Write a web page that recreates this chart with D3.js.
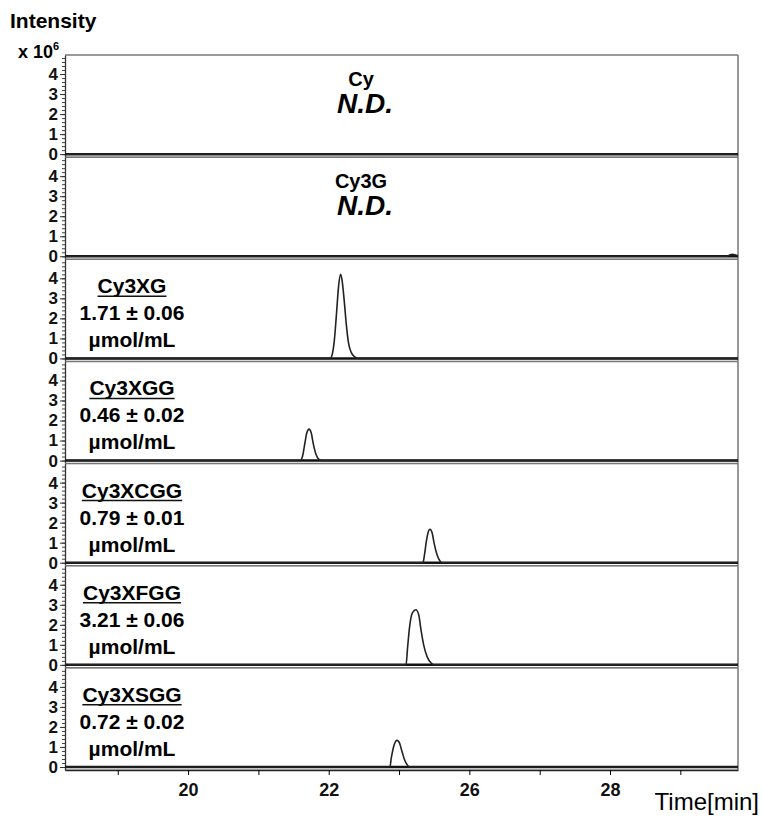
<!DOCTYPE html>
<html><head><meta charset="utf-8">
<script src="https://cdn.jsdelivr.net/npm/d3@7/dist/d3.min.js"></script>
<style>body{margin:0;background:#fff}svg{display:block;font-family:Arial,"Liberation Sans",sans-serif}</style>
</head><body><svg id="c" width="764" height="820"></svg>
<script>
const compounds = ["Cy","Cy3G","Cy3XG","Cy3XGG","Cy3XCGG","Cy3XFGG","Cy3XSGG"];
const amounts = [null,null,"1.71 ± 0.06","0.46 ± 0.02","0.79 ± 0.01","3.21 ± 0.06","0.72 ± 0.02"];
const unitLabel = "µmol/mL";
const xTickValues = [20,22,24,26];
const xTickLabels = ["20","22","26","28"];
const xMinorTicks = [19,21,23,25,27];
const yTickValues = [0,1,2,3,4];
const xDomain = [18.25, 27.82];
const yDomain = [-0.15, 4.95];
// traces: [time, intensity x10^6]
const traceCy = [[18.25,0],[27.82,0]];
const traceCy3G = [[18.25,0],[27.66,0],[27.70,0.06],[27.74,0.1],[27.78,0.07],[27.82,0.02]];
const traceCy3XG = [[18.25,0],[22.02,0],[22.05,0.2],[22.08,0.9],[22.11,2.2],[22.14,3.6],[22.17,4.2],[22.19,3.9],[22.22,2.9],[22.25,1.7],[22.28,0.8],[22.32,0.3],[22.37,0.08],[22.42,0],[27.82,0]];
const traceCy3XGG = [[18.25,0],[21.60,0],[21.63,0.25],[21.66,0.85],[21.69,1.4],[21.72,1.57],[21.75,1.4],[21.78,0.85],[21.82,0.3],[21.86,0.06],[21.90,0],[27.82,0]];
const traceCy3XCGG = [[18.25,0],[23.34,0],[23.36,0.35],[23.39,1.1],[23.42,1.58],[23.44,1.67],[23.47,1.5],[23.50,0.95],[23.54,0.4],[23.58,0.1],[23.61,0],[27.82,0]];
const traceCy3XFGG = [[18.25,0],[23.10,0],[23.12,0.8],[23.15,1.9],[23.19,2.6],[23.24,2.75],[23.28,2.5],[23.31,1.8],[23.35,1.0],[23.40,0.4],[23.46,0.08],[23.50,0],[27.82,0]];
const traceCy3XSGG = [[18.25,0],[22.87,0],[22.89,0.45],[22.93,1.1],[22.97,1.33],[23.00,1.25],[23.04,0.8],[23.08,0.35],[23.13,0.05],[23.16,0],[27.82,0]];
const traces = [traceCy,traceCy3G,traceCy3XG,traceCy3XGG,traceCy3XCGG,traceCy3XFGG,traceCy3XSGG];

const svg = d3.select("#c");
const left = 65, right = 738, top0 = 55, bottom = 770;
const ph = (bottom - top0) / compounds.length;
const x = d3.scaleLinear().domain(xDomain).range([left, right]);

svg.append("text").attr("x",10).attr("y",28).attr("font-size",21).attr("font-weight","bold").text("Intensity");
const xt = svg.append("text").attr("x",18).attr("y",58).attr("font-size",18).attr("font-weight","bold");
xt.append("tspan").text("x 10");
xt.append("tspan").attr("font-size",11).attr("dy",-8).text("6");

compounds.forEach((c,i)=>{
  const pt = top0 + i*ph, pb = pt + ph;
  const y = d3.scaleLinear().domain(yDomain).range([pb, pt]);
  const g = svg.append("g");
  // frame
  g.append("line").attr("x1",left).attr("x2",right).attr("y1",pt).attr("y2",pt).attr("stroke","#777").attr("stroke-width",1.5);
  g.append("line").attr("x1",right).attr("x2",right).attr("y1",pt).attr("y2",pb).attr("stroke","#777").attr("stroke-width",1.5);
  g.append("line").attr("x1",left).attr("x2",right).attr("y1",pb).attr("y2",pb).attr("stroke","#888").attr("stroke-width",1);
  // y axis
  const minor = d3.range(-0.2, 4.95, 0.2).filter(v=>v>=yDomain[0]-0.001);
  const am = g.append("g").attr("transform",`translate(${left},0)`).call(d3.axisLeft(y).tickValues(minor).tickSize(3).tickFormat(""));
  am.select(".domain").remove();
  am.selectAll("line").attr("stroke","#444");
  const ay = g.append("g").attr("transform",`translate(${left},0)`).call(d3.axisLeft(y).tickValues(yTickValues).tickSize(5).tickPadding(2).tickSizeOuter(0).tickFormat(d3.format("d")));
  ay.select(".domain").attr("stroke","#333").attr("stroke-width",1.3);
  ay.selectAll("text").attr("font-size",17).attr("font-weight","bold").attr("font-family","Arial,'Liberation Sans',sans-serif").attr("fill","#111");
  ay.selectAll("line").attr("stroke","#333");
  // trace
  g.append("line").attr("x1",left).attr("x2",right).attr("y1",y(0)).attr("y2",y(0)).attr("stroke","#111").attr("stroke-width",2.5);
  g.append("path").datum(traces[i]).attr("fill","none").attr("stroke","#222").attr("stroke-width",1.6)
    .attr("d", d3.line().x(d=>x(d[0])).y(d=>y(d[1])).curve(d3.curveMonotoneX));
  // labels
  if (amounts[i] === null) {
    g.append("text").attr("x",361).attr("y",pt+31).attr("text-anchor","middle").attr("font-size",20).attr("font-weight","bold").text(c);
    g.append("text").attr("x",365).attr("y",pt+58).attr("text-anchor","middle").attr("font-size",28).attr("font-weight","bold").attr("font-style","italic").text("N.D.");
  } else {
    const cx = 132;
    const t = g.append("text").attr("x",cx).attr("y",pt+34).attr("text-anchor","middle").attr("font-size",21).attr("font-weight","bold").text(c);
    const bb = t.node().getBBox();
    g.append("line").attr("x1",bb.x).attr("x2",bb.x+bb.width).attr("y1",pt+37).attr("y2",pt+37).attr("stroke","#111").attr("stroke-width",1.5);
    g.append("text").attr("x",cx).attr("y",pt+61).attr("text-anchor","middle").attr("font-size",21).attr("font-weight","bold").text(amounts[i]);
    g.append("text").attr("x",cx).attr("y",pt+88).attr("text-anchor","middle").attr("font-size",21).attr("font-weight","bold").text(unitLabel);
  }
});

// x axis
const ax = svg.append("g").attr("transform",`translate(0,${bottom})`)
  .call(d3.axisBottom(x).tickValues(xTickValues).tickSize(5).tickPadding(8).tickSizeOuter(0).tickFormat((d,i)=>xTickLabels[i]));
ax.select(".domain").attr("stroke","#222").attr("stroke-width",1.5);
ax.selectAll("text").attr("font-size",18).attr("font-weight","bold").attr("font-family","Arial,'Liberation Sans',sans-serif").attr("fill","#111");
const axm = svg.append("g").attr("transform",`translate(0,${bottom})`).call(d3.axisBottom(x).tickValues(xMinorTicks).tickSize(5).tickFormat(""));
axm.select(".domain").remove();
svg.append("text").attr("x",759).attr("y",810).attr("text-anchor","end").attr("font-size",24).text("Time[min]");
</script></body></html>
